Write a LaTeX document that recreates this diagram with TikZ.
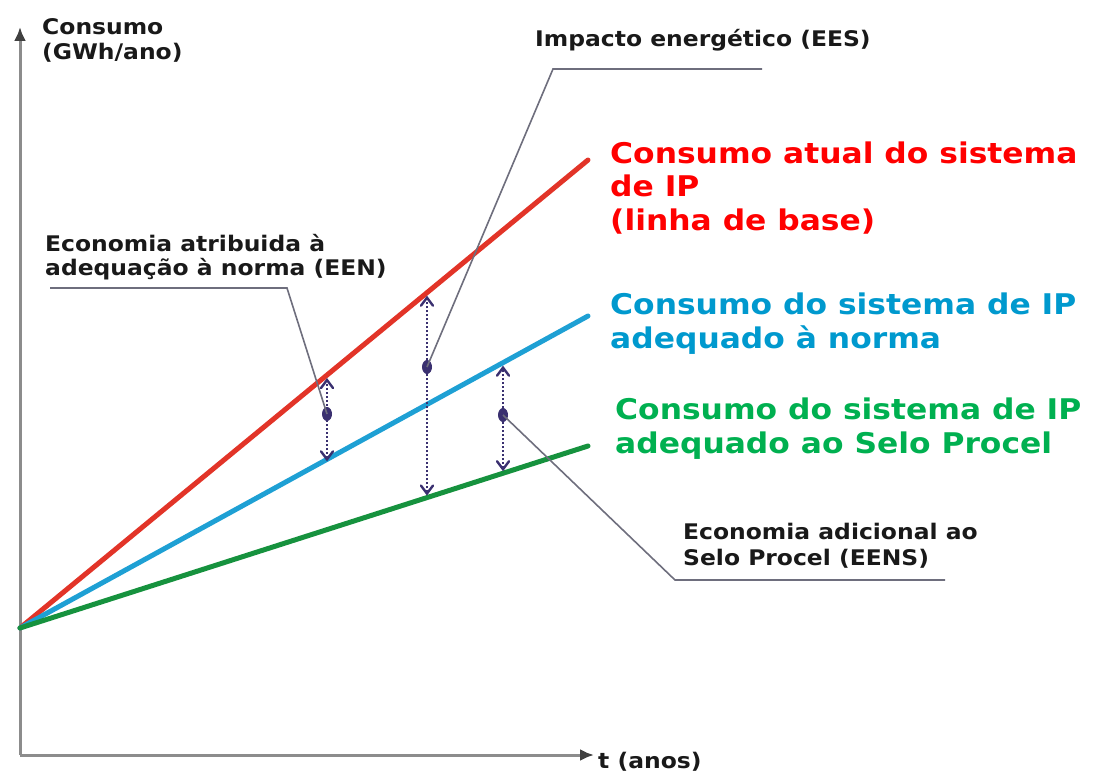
\documentclass[tikz,border=0pt]{standalone}
\usepackage{fontspec}
\newfontfamily\lab[FakeStretch=1.09]{DejaVu Sans}
\newfontfamily\biglab[FakeStretch=1.1]{DejaVu Sans}
\usetikzlibrary{calc,arrows.meta,shapes.geometric}
\definecolor{redline}{RGB}{226,52,40}
\definecolor{blueline}{RGB}{30,160,212}
\definecolor{greenline}{RGB}{22,146,62}
\definecolor{redtxt}{RGB}{255,0,0}
\definecolor{bluetxt}{RGB}{0,153,206}
\definecolor{greentxt}{RGB}{0,176,80}
\definecolor{navy}{RGB}{58,48,112}
\definecolor{axisgray}{RGB}{140,140,140}
\definecolor{leadgray}{RGB}{110,110,125}
\definecolor{txtblack}{RGB}{25,25,25}
\tikzset{
  axisline/.style={draw=axisgray,line width=3pt,-{Latex[length=14pt,width=12pt,color=black!75]}},
  consline/.style={line width=5pt,line cap=round},
  vtip/.tip={Straight Barb[length=8pt,width=12pt,line width=2.4pt,line cap=round]},
  dimarrow/.style={draw=navy,line width=2.4pt,dash pattern=on 2pt off 2pt,{vtip}-{vtip}},
  leader/.style={draw=leadgray,line width=1.6pt},
  pdot/.style={ellipse,fill=navy,inner sep=0pt,minimum width=10pt,minimum height=14pt},
  smalltxt/.style={font=\lab\bfseries\fontsize{21.5}{24}\selectfont,text=txtblack,align=left,anchor=base west,inner sep=0pt},
  bigtxt/.style={font=\biglab\bfseries\fontsize{28.5}{33.5}\selectfont,align=left,anchor=base west,inner sep=0pt},
}
\begin{document}
\begin{tikzpicture}[x=1pt,y=-1pt]
\useasboundingbox (0,0) rectangle (1096,773);
% axes
\coordinate (orig) at (20,755);
\coordinate (ytop) at (20,27);
\coordinate (xend) at (594,755);
\draw[axisline] (orig) -- (ytop);
\draw[axisline] (orig) -- (xend);
\node[smalltxt] (ylab) at (42,60) {Consumo\\[1pt](GWh/ano)};
\node[smalltxt] (xlab) at (598,768) {t (anos)};
% consumption lines
\coordinate (O) at (20,628);
\coordinate (R) at (588,160);
\coordinate (B) at (588,316);
\coordinate (G) at (588,446);
\draw[consline,redline] (O) -- (R);
\draw[consline,blueline] (O) -- (B);
\draw[consline,greenline] (O) -- (G);
% points on lines
\coordinate (r1) at ($(O)!0.5405!(R)+(0,3)$);
\coordinate (b1) at ($(O)!0.5405!(B)+(0,2)$);
\coordinate (r2) at ($(O)!0.7165!(R)+(0,3)$);
\coordinate (g2) at ($(O)!0.7165!(G)+(0,-2)$);
\coordinate (b3) at ($(O)!0.8504!(B)+(0,3)$);
\coordinate (g3) at ($(O)!0.8504!(G)+(0,-2)$);
\draw[dimarrow] (b1) -- (r1);
\draw[dimarrow] (g2) -- (r2);
\draw[dimarrow] (g3) -- (b3);
\node[pdot] (d1) at (327,414) {};
\node[pdot] (d2) at (427,367) {};
\node[pdot] (d3) at (503,415) {};
% labels with leaders
\node[smalltxt] (een) at (45,275) {Economia atribuida à\\adequação à norma (EEN)};
\coordinate (eenA) at (50,288);
\coordinate (eenB) at (287,288);
\draw[leader] (eenA) -- (eenB) -- (d1.center);
\node[smalltxt] (ees) at (535,47) {Impacto energético (EES)};
\coordinate (eesA) at (762,69);
\coordinate (eesB) at (553,69);
\draw[leader] (eesA) -- (eesB) -- (d2.center);
\node[smalltxt] (eens) at (683,565) {Economia adicional ao\\[2pt]Selo Procel (EENS)};
\coordinate (eensA) at (945,580);
\coordinate (eensB) at (675,580);
\draw[leader] (eensA) -- (eensB) -- (d3.center);
% line labels
\node[bigtxt,text=redtxt] (lred) at (610,230) {Consumo atual do sistema\\de IP\\(linha de base)};
\node[bigtxt,text=bluetxt] (lblue) at (610,348) {Consumo do sistema de IP\\adequado à norma};
\node[bigtxt,text=greentxt] (lgreen) at (615,453) {Consumo do sistema de IP\\adequado ao Selo Procel};
\end{tikzpicture}
\end{document}
